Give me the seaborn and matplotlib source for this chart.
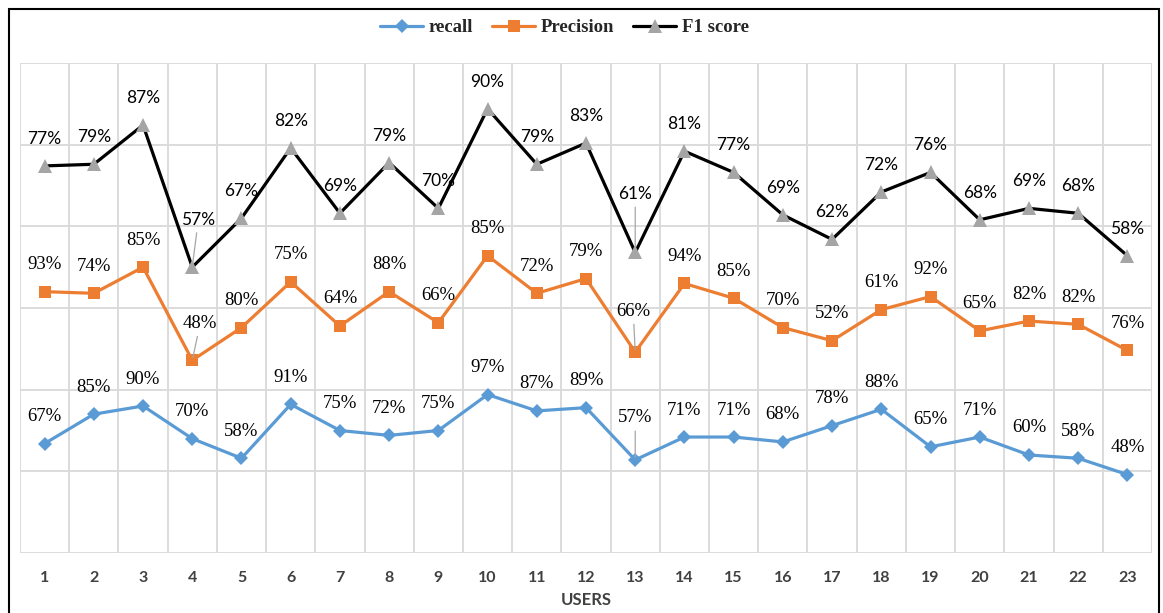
import numpy as np
import pandas as pd
import seaborn as sns
import matplotlib.pyplot as plt
from matplotlib.patches import Rectangle

users = list(range(1, 24))
recall = [67, 85, 90, 70, 58, 91, 75, 72, 75, 97, 87, 89, 57, 71, 71, 68, 78, 88, 65, 71, 60, 58, 48]
precision = [93, 74, 85, 48, 80, 75, 64, 88, 66, 85, 72, 79, 66, 94, 85, 70, 52, 61, 92, 65, 82, 82, 76]
f1 = [77, 79, 87, 57, 67, 82, 69, 79, 70, 90, 79, 83, 61, 81, 77, 69, 62, 72, 76, 68, 69, 68, 58]

# stacked line chart: each series sits on top of the previous one
cum_recall = np.array(recall)
cum_prec = cum_recall + np.array(precision)
cum_f1 = cum_prec + np.array(f1)

df = pd.DataFrame({"user": users, "recall": cum_recall, "Precision": cum_prec, "F1 score": cum_f1})

sns.set_style("white")
fig = plt.figure(figsize=(11.63, 6.13), dpi=100)
ax = fig.add_axes([20 / 1163, 60 / 613, 1132 / 1163, 490 / 613])

blue = "#5B9BD5"
orange = "#ED7D31"
grey = "#A5A5A5"

sns.lineplot(data=df, x="user", y="recall", ax=ax, color=blue, lw=2.3, marker="D",
             markersize=7, markeredgewidth=0, label="recall")
sns.lineplot(data=df, x="user", y="Precision", ax=ax, color=orange, lw=2.3, marker="s",
             markersize=9, markeredgewidth=0, label="Precision")
sns.lineplot(data=df, x="user", y="F1 score", ax=ax, color="black", lw=2.3, marker="^",
             markersize=10, markeredgewidth=0, markerfacecolor=grey, label="F1 score")

ax.set_xlim(0.5, 23.5)
ax.set_ylim(0, 300)
ax.set_xticks(users)
ax.set_xticklabels([str(u) for u in users], fontfamily="Lato", fontweight="bold", fontsize=11.5, color="#404040")
ax.set_yticks([])
for x in np.arange(0.5, 24, 1):
    ax.axvline(x, color="#D9D9D9", lw=1.3, zorder=0)
for y in range(0, 301, 50):
    ax.axhline(y, color="#D9D9D9", lw=1.3, zorder=0)
for s in ax.spines.values():
    s.set_visible(False)
ax.tick_params(axis="x", length=0, pad=13)
ax.set_xlabel("USERS", fontfamily="Lato", fontweight="bold", fontsize=12, color="#404040", labelpad=5)
ax.set_ylabel("")

# data labels (pixel offsets above the point), a few moved with leader lines
special = {
    ("f1", 3): (6, 47), ("prec", 3): (8, 37),
    ("f1", 12): (0, 58), ("prec", 12): (-2, 41), ("rec", 12): (0, 42),
}
series = [
    ("rec", recall, cum_recall, "Liberation Serif"),
    ("prec", precision, cum_prec, "Liberation Serif"),
    ("f1", f1, cum_f1, "Lato"),
]
for key, vals, ys, fam in series:
    for i, (v, y) in enumerate(zip(vals, ys)):
        off = special.get((key, i), (0, 27))
        arrow = None
        if (key, i) in special:
            arrow = dict(arrowstyle="-", color="#A6A6A6", lw=0.9, shrinkA=1, shrinkB=2)
        ax.annotate(f"{v}%", (users[i], y), xytext=off, textcoords="offset pixels",
                    ha="center", va="center", fontfamily=fam,
                    fontsize=13.5 if fam != "Lato" else 12.5,
                    color="black", arrowprops=arrow, zorder=5)

leg = ax.legend(loc="center", bbox_to_anchor=(0.481, 1.072), ncol=3, frameon=False,
                prop={"family": "Liberation Serif", "weight": "bold", "size": 13.5},
                handlelength=2.3, columnspacing=1.0, handletextpad=0.3)

fig.patches.append(Rectangle((9 / 1163, -0.05), 1150 / 1163, 1 - 9 / 613 + 0.05,
                             transform=fig.transFigure, fill=False, edgecolor="black", lw=1.5))

fig.savefig("out.png", dpi=100)
